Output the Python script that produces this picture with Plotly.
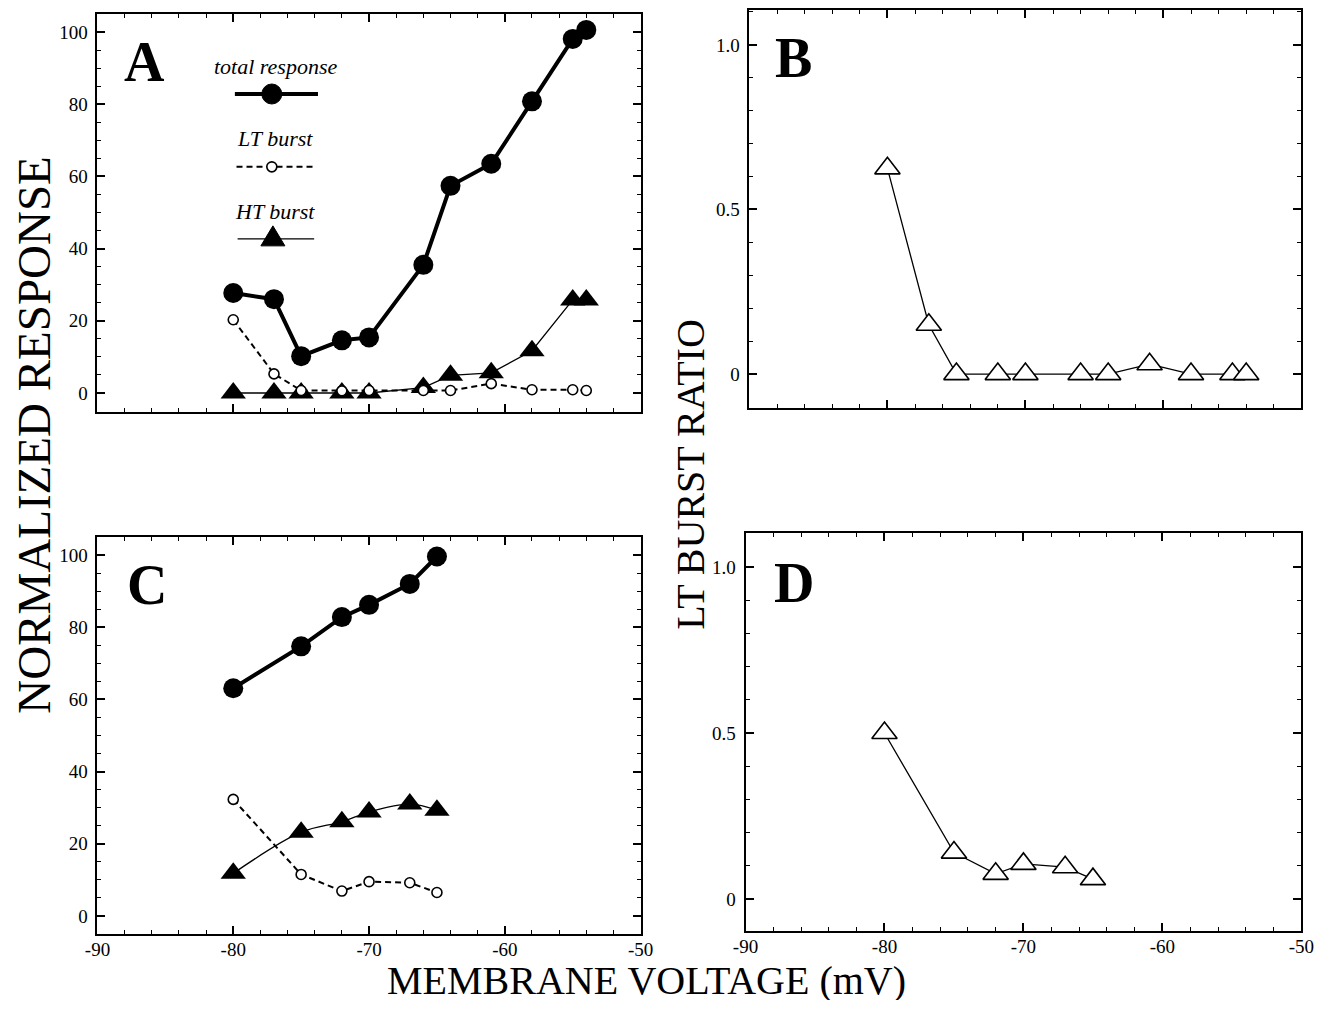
import plotly.graph_objects as go

# ---------------- data ----------------
volt_A = [-80, -77, -75, -72, -70, -66, -64, -61, -58, -55, -54]
total_A = [27.7, 26.0, 10.2, 14.6, 15.4, 35.5, 57.4, 63.5, 80.8, 98.1, 100.6]
lt_A = [20.3, 5.3, 0.7, 0.6, 0.7, 0.7, 0.7, 2.6, 0.9, 0.9, 0.7]
ht_A = [0, 0, 0, 0, 0, 1.5, 4.9, 5.6, 11.7, 25.8, 25.8]
ratio_B = [0.625, 0.15, 0, 0, 0, 0, 0, 0.03, 0, 0, 0]

volt_C = [-80, -75, -72, -70, -67, -65]
total_C = [63.1, 74.7, 82.8, 86.2, 92.0, 99.6]
lt_C = [32.3, 11.5, 6.9, 9.5, 9.2, 6.5]
ht_C = [11.8, 23.2, 26.1, 28.8, 31.0, 29.3]
ratio_D = [0.50, 0.14, 0.076, 0.106, 0.096, 0.06]

x_tickvals = [-90, -80, -70, -60, -50]
x_ticktext = ["-90", "-80", "-70", "-60", "-50"]
resp_tickvals = [0, 20, 40, 60, 80, 100]
ratio_tickvals = [0, 0.5, 1.0]
ratio_ticktext = ["0", "0.5", "1.0"]

# page is 1342x1012; the html body has an 8px margin, so the figure is 16px smaller
OFF = 8
W, H = 1342 - 2 * OFF, 1012 - 2 * OFF
SERIF = "Liberation Serif, Times New Roman, serif"


def px_x(p):
    return (p - OFF) / W


def px_y(p):
    return 1 - (p - OFF) / H


fig = go.Figure()

# ---------- panel A ----------
fig.add_trace(go.Scatter(x=volt_A, y=ht_A, xaxis="x", yaxis="y", mode="lines+markers",
                         line=dict(color="black", width=1.3),
                         marker=dict(symbol="triangle-up", size=22, color="black"),
                         showlegend=False))
fig.add_trace(go.Scatter(x=volt_A, y=lt_A, xaxis="x", yaxis="y", mode="lines+markers",
                         line=dict(color="black", width=2, dash="6px,4px"),
                         marker=dict(symbol="circle", size=10, color="white",
                                     line=dict(color="black", width=1.6)),
                         showlegend=False))
fig.add_trace(go.Scatter(x=volt_A, y=total_A, xaxis="x", yaxis="y", mode="lines+markers",
                         line=dict(color="black", width=4),
                         marker=dict(symbol="circle", size=20, color="black"),
                         showlegend=False))

# ---------- panel B ----------
fig.add_trace(go.Scatter(x=volt_A, y=ratio_B, xaxis="x2", yaxis="y2", mode="lines+markers",
                         line=dict(color="black", width=1.3),
                         marker=dict(symbol="triangle-up", size=22, color="white",
                                     line=dict(color="black", width=1.6)),
                         showlegend=False))

# ---------- panel C ----------
fig.add_trace(go.Scatter(x=volt_C, y=ht_C, xaxis="x3", yaxis="y3", mode="lines+markers",
                         line=dict(color="black", width=1.3, shape="spline", smoothing=1),
                         marker=dict(symbol="triangle-up", size=22, color="black"),
                         showlegend=False))
fig.add_trace(go.Scatter(x=volt_C, y=lt_C, xaxis="x3", yaxis="y3", mode="lines+markers",
                         line=dict(color="black", width=2, dash="6px,4px"),
                         marker=dict(symbol="circle", size=10, color="white",
                                     line=dict(color="black", width=1.6)),
                         showlegend=False))
fig.add_trace(go.Scatter(x=volt_C, y=total_C, xaxis="x3", yaxis="y3", mode="lines+markers",
                         line=dict(color="black", width=4),
                         marker=dict(symbol="circle", size=20, color="black"),
                         showlegend=False))

# ---------- panel D ----------
fig.add_trace(go.Scatter(x=volt_C, y=ratio_D, xaxis="x4", yaxis="y4", mode="lines+markers",
                         line=dict(color="black", width=1.3),
                         marker=dict(symbol="triangle-up", size=22, color="white",
                                     line=dict(color="black", width=1.6)),
                         showlegend=False))

tickfont = dict(family=SERIF, size=19, color="black")


def xaxis(domain, anchor, labels):
    return dict(domain=domain, anchor=anchor, range=[-90, -50],
                tickvals=x_tickvals, ticktext=x_ticktext, showticklabels=labels,
                ticks="inside", ticklen=8, tickwidth=1.5, tickcolor="black",
                minor=dict(dtick=2, tick0=-90, ticks="inside", ticklen=4, tickwidth=1.2,
                           tickcolor="black", showgrid=False),
                showline=True, linecolor="black", linewidth=2, mirror="ticks",
                showgrid=False, zeroline=False, tickfont=tickfont, ticklabelstandoff=-3)


def yaxis(domain, anchor, rng, tickvals, ticktext, minor_dtick):
    return dict(domain=domain, anchor=anchor, range=rng,
                tickvals=tickvals, ticktext=ticktext,
                ticks="inside", ticklen=8, tickwidth=1.5, tickcolor="black",
                minor=dict(dtick=minor_dtick, tick0=0, ticks="inside", ticklen=4, tickwidth=1.2,
                           tickcolor="black", showgrid=False),
                showline=True, linecolor="black", linewidth=2, mirror="ticks",
                showgrid=False, zeroline=False, tickfont=tickfont, ticklabelstandoff=4)


xdomL = [px_x(86), px_x(640)]
xdomR_top = [px_x(751), px_x(1314)]
xdomR_bot = [px_x(747), px_x(1314)]
ydomA = [px_y(412), px_y(14)]
ydomB = [px_y(408), px_y(10)]
ydomC = [px_y(934), px_y(537)]
ydomD = [px_y(931), px_y(533)]

resp_text = [str(v) for v in resp_tickvals]

fig.update_layout(
    width=W, height=H,
    margin=dict(l=0, r=0, t=0, b=0),
    paper_bgcolor="white", plot_bgcolor="white",
    showlegend=False,
    xaxis=xaxis(xdomL, "y", False),
    yaxis=yaxis(ydomA, "x", [-5.26, 105], resp_tickvals, resp_text, 5),
    xaxis2=xaxis(xdomR_top, "y2", False),
    yaxis2=yaxis(ydomB, "x2", [-0.103, 1.106], ratio_tickvals, ratio_ticktext, 0.1),
    xaxis3=xaxis(xdomL, "y3", True),
    yaxis3=yaxis(ydomC, "x3", [-5, 105], resp_tickvals, resp_text, 5),
    xaxis4=xaxis(xdomR_bot, "y4", True),
    yaxis4=yaxis(ydomD, "x4", [-0.096, 1.102], ratio_tickvals, ratio_ticktext, 0.1),
)

annotations = []
# panel letters
for letter, px, py in [("A", 134, 62), ("B", 796, 58), ("C", 137, 585), ("D", 796, 583)]:
    annotations.append(dict(text="<b>%s</b>" % letter, x=px_x(px), y=px_y(py),
                            xref="paper", yref="paper", showarrow=False,
                            xanchor="center", yanchor="middle",
                            font=dict(family=SERIF, size=56, color="black")))

# axis titles
annotations.append(dict(text="NORMALIZED RESPONSE", x=px_x(21), y=px_y(435),
                        xref="paper", yref="paper", showarrow=False, textangle=-90,
                        xanchor="center", yanchor="middle",
                        font=dict(family=SERIF, size=47, color="black")))
annotations.append(dict(text="LT BURST RATIO", x=px_x(690), y=px_y(475),
                        xref="paper", yref="paper", showarrow=False, textangle=-90,
                        xanchor="center", yanchor="middle",
                        font=dict(family=SERIF, size=40, color="black")))
annotations.append(dict(text="MEMBRANE VOLTAGE (mV)", x=px_x(646), y=px_y(980),
                        xref="paper", yref="paper", showarrow=False,
                        xanchor="center", yanchor="middle", height=40, valign="middle",
                        font=dict(family=SERIF, size=40, color="black")))

# legend texts in panel A
for txt, yd in [("total response", 0.867), ("LT burst", 0.686), ("HT burst", 0.503)]:
    annotations.append(dict(text="<i>%s</i>" % txt, x=0.327, y=yd,
                            xref="x domain", yref="y domain", showarrow=False,
                            xanchor="center", yanchor="middle",
                            font=dict(family=SERIF, size=22, color="black")))

fig.update_layout(annotations=annotations)

# legend keys in panel A (layout shapes)
shapes = [
    dict(type="line", xref="x domain", yref="y domain", x0=0.253, x1=0.406, y0=0.799, y1=0.799,
         line=dict(color="black", width=4)),
    dict(type="circle", xref="x domain", yref="y domain", xsizemode="pixel", ysizemode="pixel",
         xanchor=0.321, yanchor=0.799, x0=-10, x1=10, y0=-10, y1=10,
         fillcolor="black", line=dict(color="black", width=1)),
    dict(type="line", xref="x domain", yref="y domain", x0=0.256, x1=0.399, y0=0.616, y1=0.616,
         line=dict(color="black", width=2, dash="6px,4px")),
    dict(type="circle", xref="x domain", yref="y domain", xsizemode="pixel", ysizemode="pixel",
         xanchor=0.321, yanchor=0.616, x0=-5, x1=5, y0=-5, y1=5,
         fillcolor="white", line=dict(color="black", width=1.6)),
    dict(type="line", xref="x domain", yref="y domain", x0=0.258, x1=0.399, y0=0.435, y1=0.435,
         line=dict(color="black", width=1.3)),
    dict(type="path", xref="x domain", yref="y domain", xsizemode="pixel", ysizemode="pixel",
         xanchor=0.323, yanchor=0.435, path="M-12,-7 L12,-7 L0,13 Z",
         fillcolor="black", line=dict(color="black", width=1)),
]
fig.update_layout(shapes=shapes)

fig.write_html("out.html")
